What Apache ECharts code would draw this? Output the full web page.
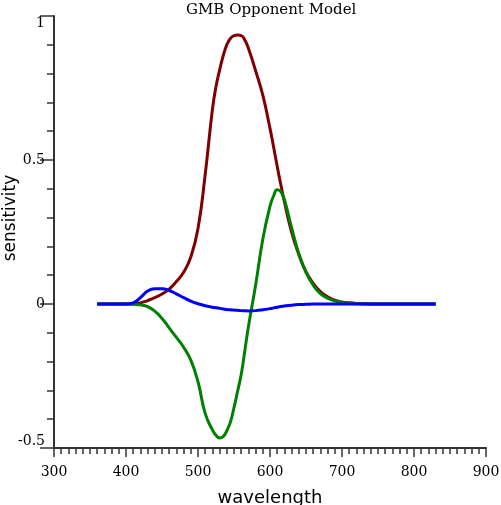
<!DOCTYPE html>
<html>
<head>
<meta charset="utf-8">
<script src="https://cdn.jsdelivr.net/npm/echarts@6/dist/echarts.min.js"></script>
<style>html,body{margin:0;padding:0;background:#fff}#c{width:501px;height:505px}</style>
</head>
<body>
<div id="c"></div>
<script>
// wavelengths (nm)
const wavelengths = [360,370,380,390,400,410,420,430,440,450,460,470,480,490,500,510,520,525,530,535,540,545,550,555,560,565,570,580,590,600,605,610,615,620,630,640,650,660,670,680,690,700,710,720,730,740,750,760,770,780,790,800,810,820,830];
// red channel
const redValues = [0,0,0,0,0,0.001,0.004,0.012,0.022,0.035,0.052,0.078,0.11,0.163,0.262,0.45,0.675,0.755,0.812,0.862,0.9,0.922,0.932,0.934,0.932,0.917,0.888,0.81,0.725,0.61,0.545,0.478,0.415,0.355,0.25,0.172,0.112,0.072,0.043,0.025,0.013,0.007,0.004,0.002,0.001,0,0,0,0,0,0,0,0,0,0];
// green channel
const greenValues = [0,0,0,0,0,-0.001,-0.003,-0.009,-0.025,-0.05,-0.083,-0.116,-0.15,-0.195,-0.27,-0.38,-0.437,-0.456,-0.465,-0.46,-0.44,-0.41,-0.36,-0.303,-0.245,-0.163,-0.079,0.065,0.225,0.34,0.375,0.397,0.39,0.362,0.265,0.175,0.11,0.065,0.036,0.02,0.011,0.006,0.003,0.001,0,0,0,0,0,0,0,0,0,0,0];
// blue channel
const blueValues = [0,0,0,0,0,0.004,0.022,0.045,0.053,0.053,0.047,0.035,0.022,0.01,0.001,-0.006,-0.011,-0.013,-0.015,-0.017,-0.019,-0.02,-0.021,-0.022,-0.023,-0.0235,-0.024,-0.023,-0.02,-0.016,-0.0135,-0.011,-0.009,-0.007,-0.004,-0.002,-0.001,0,0,0,0,0,0,0,0,0,0,0,0,0,0,0,0,0,0];
const xTicks = [300,400,500,600,700,800,900];
const yTicks = [-0.5,0,0.5,1];

const pairs = v => wavelengths.map((w,i)=>[w,v[i]]);
const axisColor = '#333';
const tickFont = {fontFamily:'DejaVu Serif', fontSize:14, color:'#000'};
const nameFont = {fontFamily:'DejaVu Sans', fontSize:18, color:'#000'};
const lineCommon = {type:'line', smooth:0.5, smoothConstraint:false, showSymbol:false};

const chart = echarts.init(document.getElementById('c'), null, {renderer:'canvas'});
chart.setOption({
  animation:false,
  backgroundColor:'#fff',
  title:{text:'GMB Opponent Model', left:181, top:-2,
    textStyle:{fontFamily:'DejaVu Serif', fontSize:15, fontWeight:'normal', color:'#000'}},
  graphic:[{type:'text', x:11, y:218, rotation:Math.PI/2,
    style:{text:'sensitivity', fontFamily:'DejaVu Sans', fontSize:17, fill:'#000', textAlign:'center', textVerticalAlign:'middle'}}],
  grid:{left:54, right:15, top:16, bottom:57, containLabel:false, outerBoundsMode:'none'},
  xAxis:{type:'value', min:xTicks[0], max:xTicks[xTicks.length-1], interval:100,
    name:'wavelength', nameLocation:'middle', nameGap:41,
    nameTextStyle:nameFont,
    axisLine:{onZero:false, lineStyle:{color:axisColor, width:2}},
    axisTick:{show:true, length:9, lineStyle:{color:axisColor, width:1.5}},
    minorTick:{show:true, splitNumber:10, length:6, lineStyle:{color:axisColor, width:1.5}},
    axisLabel:Object.assign({margin:17}, tickFont),
    splitLine:{show:false}},
  yAxis:{type:'value', min:yTicks[0], max:yTicks[yTicks.length-1], interval:0.5,
    axisLine:{onZero:false, lineStyle:{color:axisColor, width:2}},
    axisTick:{show:true, length:14, lineStyle:{color:axisColor, width:1.5}},
    minorTick:{show:true, splitNumber:5, length:7, lineStyle:{color:axisColor, width:1.5}},
    axisLabel:Object.assign({margin:9, verticalAlignMaxLabel:'top', verticalAlignMinLabel:'bottom',
      formatter:v=>String(v)}, tickFont),
    splitLine:{show:false}},
  series:[
    Object.assign({name:'R', data:pairs(redValues), lineStyle:{color:'#800000', width:3}, itemStyle:{color:'#800000'}}, lineCommon),
    Object.assign({name:'G', data:pairs(greenValues), lineStyle:{color:'#008000', width:3}, itemStyle:{color:'#008000'}}, lineCommon),
    Object.assign({name:'B', data:pairs(blueValues), lineStyle:{color:'#0000ff', width:3}, itemStyle:{color:'#0000ff'}}, lineCommon)
  ]
});
</script>
</body>
</html>
